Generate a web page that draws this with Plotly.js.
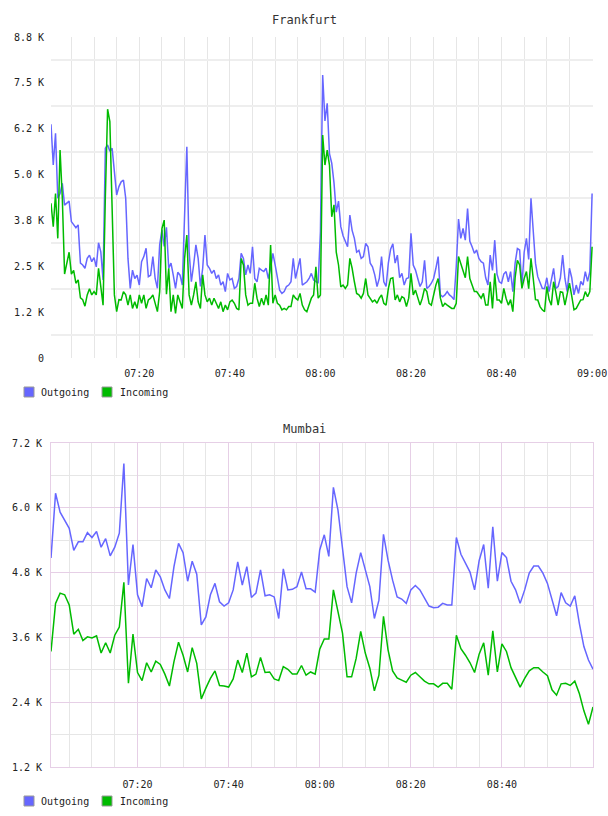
<!DOCTYPE html>
<html>
<head>
<meta charset="utf-8">
<script src="https://cdn.plot.ly/plotly-3.0.1.min.js"></script>
<style>
  html, body { margin: 0; padding: 0; background: #ffffff; }
  #chart { width: 608px; height: 816px; }
</style>
</head>
<body>
<div id="chart"></div>
<script>
// ---- Series and labels -------------------------------------------------
const seriesNames = ['Outgoing', 'Incoming'];
const seriesColors = ['#6666ff', '#00bb00'];
const chartTitles = ['Frankfurt', 'Mumbai'];
const day = '2014-05-12';

// Frankfurt: one sample every 30 s from 07:00:30 to 09:00:00 (values in K)
const frankfurtStart = '07:00:30';
const frankfurtStepSec = 30;
const frankfurtOutgoing = [
  6.41,5.29,6.16,4.38,4.51,4.79,4.19,4.24,4.30,3.74,
  3.65,3.57,3.65,2.60,2.55,2.46,2.73,2.82,2.64,2.75,
  2.50,3.16,2.91,2.14,5.75,5.84,5.67,5.75,5.11,4.47,
  4.70,4.83,4.88,4.38,2.73,1.91,2.41,2.18,2.27,2.00,
  2.64,2.78,3.01,2.23,2.27,2.78,2.18,1.91,3.10,3.51,
  3.06,3.58,2.46,2.60,2.27,1.91,2.35,2.27,2.00,3.92,
  5.79,2.92,2.09,2.55,3.10,2.73,1.96,2.46,3.37,2.55,
  2.46,2.32,2.41,2.18,2.28,2.00,2.09,1.82,2.32,2.14,
  2.18,1.91,1.96,2.18,2.87,2.73,2.28,2.55,2.32,3.05,
  2.18,2.09,2.46,2.41,2.37,2.46,2.18,2.46,2.87,2.55,
  2.18,1.86,1.77,1.82,1.96,2.00,2.09,2.73,2.18,2.46,
  2.73,2.00,2.05,2.09,2.18,2.32,2.14,2.09,2.05,3.46,
  7.76,6.50,6.98,5.60,5.34,4.80,4.00,4.30,3.60,3.35,
  3.20,3.05,3.92,3.50,3.28,2.90,2.95,2.73,2.78,3.14,
  3.05,2.60,2.50,2.28,1.96,2.18,2.78,2.09,1.96,2.60,
  2.98,3.13,2.60,2.82,2.20,2.32,2.00,2.18,2.20,3.42,
  2.55,2.41,2.18,1.96,2.09,2.68,1.91,1.96,2.05,2.18,
  2.46,2.78,1.73,1.68,1.73,1.82,1.73,1.68,1.60,2.50,
  3.81,3.28,3.55,3.23,4.10,3.20,3.05,2.87,2.96,2.73,
  2.64,2.60,2.20,2.00,2.82,2.40,3.23,2.30,2.09,2.05,
  2.30,2.37,2.09,2.37,1.82,2.60,3.00,2.96,1.96,2.90,
  3.28,2.70,4.38,3.60,2.60,2.23,2.09,1.91,1.90,2.20,
  1.82,2.20,2.46,1.91,1.96,2.20,2.82,2.18,1.82,2.46,
  2.20,1.73,2.00,1.77,2.10,2.00,2.37,2.10,2.37,4.51
];
const frankfurtIncoming = [
  4.24,3.60,4.51,3.28,5.70,4.38,2.30,2.60,2.90,2.30,
  2.40,2.05,2.14,1.65,1.60,1.42,1.73,1.90,1.73,1.82,
  1.73,2.46,1.91,1.45,4.40,6.82,6.48,4.40,1.73,1.27,
  1.60,1.59,1.82,1.73,1.45,1.73,1.36,1.54,1.36,1.73,
  1.50,1.73,1.36,1.59,1.64,1.73,1.50,1.27,1.82,3.55,
  3.78,1.75,2.46,1.27,1.73,1.22,1.73,1.54,1.36,2.73,
  3.37,1.73,1.45,1.73,2.09,1.54,1.36,2.28,1.73,1.54,
  1.64,1.45,1.64,1.50,1.36,1.54,1.27,1.45,1.32,1.54,
  1.59,1.50,1.36,1.32,2.73,2.55,1.73,1.45,1.50,1.50,
  2.05,1.64,1.41,1.64,1.45,1.73,1.45,3.10,1.50,1.73,
  1.50,1.45,1.32,1.36,1.32,1.41,1.41,1.73,1.64,1.59,
  1.77,1.45,1.32,1.27,1.45,1.64,1.73,2.50,1.64,1.73,
  6.11,5.29,5.70,5.29,3.87,4.20,2.90,2.55,1.95,2.00,
  1.91,2.00,2.73,2.46,2.09,1.77,1.73,1.64,1.77,2.18,
  1.73,1.64,1.54,1.59,1.50,1.64,1.73,1.50,1.45,1.90,
  2.18,2.20,1.59,1.73,1.54,1.68,1.64,1.41,1.64,2.32,
  1.73,1.86,1.64,1.45,1.64,1.91,1.82,1.50,1.45,1.73,
  2.00,2.18,1.64,1.41,1.50,1.45,1.41,1.36,1.36,1.50,
  2.78,2.60,2.37,2.20,2.78,2.18,2.00,1.82,1.82,1.73,
  1.64,1.77,1.45,1.45,2.09,1.36,2.32,1.59,1.59,1.50,
  1.91,1.64,1.45,1.60,1.27,2.20,2.68,2.55,1.91,2.18,
  2.37,1.90,2.73,2.18,1.60,1.59,1.41,1.32,1.27,1.96,
  1.60,1.45,2.09,1.80,1.45,1.82,1.80,1.45,1.80,2.05,
  1.70,1.32,1.36,1.50,1.59,1.60,1.82,1.68,1.82,3.05
];

// Mumbai: one sample per minute from 07:01 to 09:00 (values in K)
const mumbaiStart = '07:01:00';
const mumbaiStepSec = 60;
const mumbaiOutgoing = [
  5.07,6.27,5.92,5.77,5.62,5.21,5.37,5.37,5.54,5.45,
  5.56,5.27,5.43,5.11,5.27,5.53,6.82,4.57,5.32,4.39,
  4.17,4.69,4.52,4.85,4.72,4.48,4.32,4.91,5.34,5.17,
  4.64,5.01,4.77,3.83,3.98,4.39,4.60,4.26,4.18,4.24,
  4.48,5.00,4.57,4.91,4.34,4.42,4.85,4.37,4.39,4.35,
  3.95,4.87,4.48,4.49,4.54,4.81,4.50,4.50,4.44,5.22,
  5.50,5.10,6.38,5.96,5.22,4.54,4.24,4.79,5.17,4.85,
  4.54,3.95,4.29,5.51,5.03,4.66,4.35,4.31,4.23,4.48,
  4.56,4.48,4.34,4.18,4.15,4.16,4.23,4.20,4.20,5.45,
  5.14,4.97,4.81,4.48,5.02,5.32,4.51,5.65,4.64,5.17,
  5.08,4.64,4.48,4.23,4.48,4.79,4.92,4.92,4.79,4.60,
  4.32,4.00,4.43,4.24,4.18,4.37,3.86,3.43,3.18,3.01
];
const mumbaiIncoming = [
  3.34,4.23,4.42,4.39,4.20,3.66,3.75,3.54,3.61,3.59,
  3.63,3.31,3.50,3.31,3.64,3.79,4.62,2.75,3.66,2.95,
  2.80,3.13,2.96,3.16,3.10,2.92,2.70,3.15,3.51,3.27,
  2.96,3.41,3.12,2.46,2.66,2.84,2.98,2.71,2.70,2.68,
  2.83,3.18,2.95,3.31,2.87,2.92,3.23,2.95,2.96,2.83,
  2.80,3.06,3.01,2.92,2.92,3.08,2.90,2.96,2.92,3.38,
  3.57,3.57,4.48,4.08,3.68,2.87,2.87,3.21,3.71,3.31,
  3.03,2.61,2.90,3.99,3.37,2.98,2.85,2.81,2.77,2.90,
  2.95,2.87,2.79,2.74,2.74,2.68,2.75,2.75,2.64,3.64,
  3.39,3.27,3.13,2.95,3.29,3.50,2.90,3.72,2.96,3.48,
  3.34,3.04,2.87,2.68,2.84,2.98,3.04,3.04,2.96,2.89,
  2.63,2.53,2.74,2.75,2.71,2.79,2.56,2.24,1.99,2.31
];

// Axis labels
const timeTickLabels = ['07:20', '07:40', '08:00', '08:20', '08:40', '09:00'];
const frankfurtMaxK = 8.8;
const frankfurtYLabels = ['0', '1.2 K', '2.5 K', '3.8 K', '5.0 K', '6.2 K', '7.5 K', '8.8 K'];
const mumbaiYValues = [1.2, 2.4, 3.6, 4.8, 6.0, 7.2];
const mumbaiYLabels = ['1.2 K', '2.4 K', '3.6 K', '4.8 K', '6.0 K', '7.2 K'];

// ---- Helpers -----------------------------------------------------------
const pad = n => String(n).padStart(2, '0');
function stamp(sec) {
  return `${day} ${pad(Math.floor(sec / 3600))}:${pad(Math.floor(sec % 3600 / 60))}:${pad(sec % 60)}`;
}
function toSec(hms) {
  const [h, m, s] = hms.split(':').map(Number);
  return h * 3600 + m * 60 + (s || 0);
}
function sampleTimes(start, stepSec, n) {
  const base = toSec(start);
  return Array.from({ length: n }, (_, i) => stamp(base + i * stepSec));
}
const labelStamp = lbl => stamp(toSec(lbl));

const W = 608, H = 816;
const px = x => x / W;
const py = y => 1 - y / H;

const frankfurtTimes = sampleTimes(frankfurtStart, frankfurtStepSec, frankfurtOutgoing.length);
const mumbaiTimes = sampleTimes(mumbaiStart, mumbaiStepSec, mumbaiOutgoing.length);

// Frankfurt scale: labels at sevenths of the max, grid lines half way between
const fSteps = frankfurtYLabels.length - 1;
const frankfurtYValues = frankfurtYLabels.map((_, k) => k * frankfurtMaxK / fSteps);
const frankfurtYGrid = frankfurtYValues.slice(1).map(v => v - frankfurtMaxK / fSteps / 2);
const mumbaiYGrid = mumbaiYValues.slice(1).map((v, k) => (v + mumbaiYValues[k]) / 2);

const monoFont = 'DejaVu Sans Mono, Liberation Mono, monospace';
const tickFont = { family: monoFont, size: 10, color: '#222222' };

// ---- Traces ------------------------------------------------------------
function lineTrace(x, y, k, xa, ya) {
  return {
    type: 'scatter', mode: 'lines', x, y, name: seriesNames[k],
    xaxis: xa, yaxis: ya,
    line: { color: seriesColors[k], width: 1.5 },
    hoverinfo: 'skip'
  };
}
const traces = [
  lineTrace(frankfurtTimes, frankfurtOutgoing, 0, 'x', 'y'),
  lineTrace(frankfurtTimes, frankfurtIncoming, 1, 'x', 'y'),
  lineTrace(mumbaiTimes, mumbaiOutgoing, 0, 'x2', 'y2'),
  lineTrace(mumbaiTimes, mumbaiIncoming, 1, 'x2', 'y2')
];

// ---- Layout ------------------------------------------------------------
const plotX = [px(51), px(593)];
const pink = '#e6cfe6';
const softGrey = '#e6e6e6';
// the upper time axis runs a few seconds past the last sample so its 09:00 label stays inside
const frankfurtEnd = stamp(toSec(frankfurtStart) + (frankfurtOutgoing.length - 1) * frankfurtStepSec + 12);

const layout = {
  width: W, height: H,
  margin: { l: 0, r: 0, t: 0, b: 0 },
  paper_bgcolor: '#ffffff', plot_bgcolor: '#ffffff',
  showlegend: false,
  hovermode: false,
  font: { family: monoFont, size: 10, color: '#222222' },

  xaxis: {
    domain: plotX, anchor: 'y', type: 'date',
    range: [frankfurtTimes[0], frankfurtEnd],
    tickmode: 'array',
    tickvals: timeTickLabels.map(labelStamp), ticktext: timeTickLabels,
    ticks: '', tickfont: tickFont, ticklabelstandoff: 8,
    showgrid: true, gridcolor: softGrey, gridwidth: 1,
    minor: { dtick: 300000, tick0: `${day} 07:00:00`, showgrid: true, gridcolor: softGrey, gridwidth: 1 },
    showline: false, zeroline: false, fixedrange: true
  },
  yaxis: {
    domain: [py(358), py(37)], anchor: 'x',
    range: [0, frankfurtMaxK],
    tickmode: 'array', tickvals: frankfurtYValues, ticktext: frankfurtYLabels,
    ticks: '', tickfont: tickFont, ticklabelstandoff: 6,
    showgrid: false,
    minor: { tickmode: 'array', tickvals: frankfurtYGrid, showgrid: true, gridcolor: '#eeeeee', gridwidth: 2 },
    showline: false, zeroline: false, fixedrange: true
  },

  xaxis2: {
    domain: plotX, anchor: 'y2', type: 'date',
    range: [mumbaiTimes[0], mumbaiTimes[mumbaiTimes.length - 1]],
    tickmode: 'array',
    tickvals: timeTickLabels.slice(0, -1).map(labelStamp), ticktext: timeTickLabels.slice(0, -1),
    ticks: '', tickfont: tickFont, ticklabelstandoff: 8,
    showgrid: true, gridcolor: pink, gridwidth: 1,
    minor: { dtick: 300000, tick0: `${day} 07:00:00`, showgrid: true, gridcolor: softGrey, gridwidth: 1 },
    showline: true, mirror: true, linecolor: pink, linewidth: 1,
    zeroline: false, fixedrange: true
  },
  yaxis2: {
    domain: [py(767), py(443)], anchor: 'x2',
    range: [mumbaiYValues[0], mumbaiYValues[mumbaiYValues.length - 1]],
    tickmode: 'array', tickvals: mumbaiYValues, ticktext: mumbaiYLabels,
    ticks: '', tickfont: tickFont, ticklabelstandoff: 6,
    showgrid: true, gridcolor: pink, gridwidth: 1,
    minor: { tickmode: 'array', tickvals: mumbaiYGrid, showgrid: true, gridcolor: softGrey, gridwidth: 1 },
    showline: true, mirror: true, linecolor: pink, linewidth: 1,
    zeroline: false, fixedrange: true
  },

  annotations: [],
  shapes: []
};

// Chart titles
[[chartTitles[0], 20], [chartTitles[1], 429]].forEach(([txt, y]) => {
  layout.annotations.push({
    xref: 'paper', yref: 'paper', x: px(304), y: py(y),
    xanchor: 'center', yanchor: 'middle', showarrow: false,
    text: txt, font: { family: monoFont, size: 12, color: '#333333' }
  });
});

// Legends under each chart: square swatch followed by the series name
[392, 801].forEach(cy => {
  [[24, 39], [102, 118]].forEach(([sx, tx], k) => {
    layout.shapes.push({
      type: 'rect', xref: 'paper', yref: 'paper',
      x0: px(sx), x1: px(sx + 10), y0: py(cy + 5), y1: py(cy - 5),
      fillcolor: seriesColors[k], line: { color: '#999999', width: 1 }
    });
    layout.annotations.push({
      xref: 'paper', yref: 'paper', x: px(tx), y: py(cy),
      xanchor: 'left', yanchor: 'middle', showarrow: false,
      text: seriesNames[k], font: { family: monoFont, size: 10, color: '#222222' }
    });
  });
});

Plotly.newPlot('chart', traces, layout, { displayModeBar: false, staticPlot: true });
</script>
</body>
</html>
